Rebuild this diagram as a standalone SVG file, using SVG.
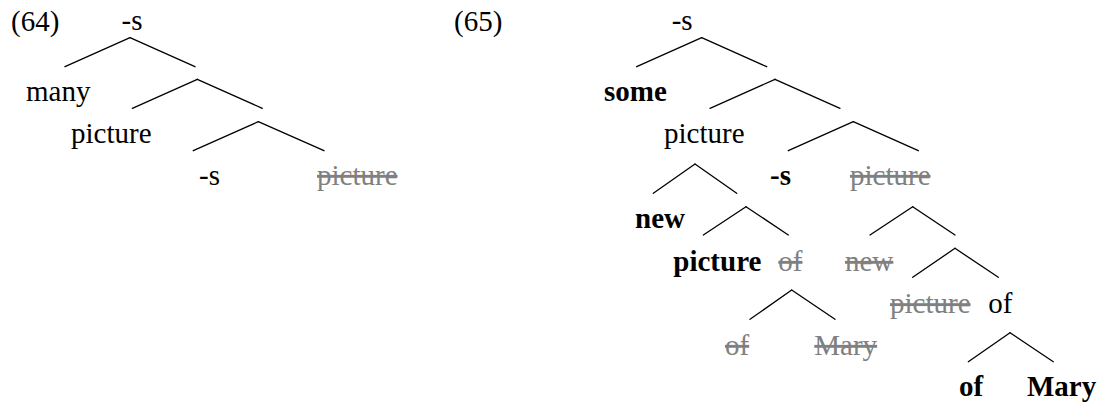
<svg xmlns="http://www.w3.org/2000/svg" width="1101" height="404" viewBox="0 0 1101 404">
<style>
text{font-size:29px;fill:#000}
.b{font-weight:bold}
.g{fill:#808080;text-decoration:line-through}
.e line{stroke:#000;stroke-width:1.3;stroke-linecap:round}
</style>
<rect width="1101" height="404" fill="#fff"/>
<g font-family="'Liberation Serif', 'Times New Roman', Times, 'DejaVu Serif', serif">
<g id="labels">
<text id="ex64" x="11" y="31">(64)</text>
<text id="ex65" x="454" y="31">(65)</text>
</g>
<g id="tree64">
<g id="t64-root"><text x="121.5" y="30">-s</text></g>
<g id="t64-many"><text x="26" y="101">many</text></g>
<g id="t64-picture"><text x="71" y="143">picture</text></g>
<g id="t64-s"><text x="199" y="185">-s</text></g>
<g id="t64-picture-del"><text class="g" x="317" y="185">picture</text></g>
</g>
<g id="tree65">
<g id="t65-root"><text x="671.7" y="30">-s</text></g>
<g id="t65-some"><text class="b" x="604" y="101">some</text></g>
<g id="t65-picture"><text x="664" y="143">picture</text></g>
<g id="t65-s"><text class="b" x="770" y="185">-s</text></g>
<g id="t65-picture-del"><text class="g" x="850" y="185">picture</text></g>
<g id="t65-new"><text class="b" x="635" y="228.3">new</text></g>
<g id="t65-picture-b"><text class="b" x="673.3" y="271">picture</text></g>
<g id="t65-of-del"><text class="g" x="778.3" y="271">of</text></g>
<g id="t65-new-del"><text class="g" x="845" y="271">new</text></g>
<g id="t65-picture-del2"><text class="g" x="890" y="313.3">picture</text></g>
<g id="t65-of"><text x="988.3" y="313.3">of</text></g>
<g id="t65-of-del2"><text class="g" x="725" y="355">of</text></g>
<g id="t65-mary-del"><text class="g" x="814.3" y="355">Mary</text></g>
<g id="t65-of-b"><text class="b" x="959" y="396">of</text></g>
<g id="t65-mary-b"><text class="b" x="1027" y="396">Mary</text></g>
</g>
</g>
<g id="connectors" class="e">
<line x1="130" y1="37.7" x2="65" y2="66.7"/>
<line x1="130" y1="37.7" x2="195" y2="66.7"/>
<line x1="197.3" y1="79.3" x2="132.3" y2="108.3"/>
<line x1="197.3" y1="79.3" x2="262.3" y2="108.3"/>
<line x1="258.3" y1="121.7" x2="193.3" y2="150.7"/>
<line x1="258.3" y1="121.7" x2="324" y2="150.7"/>
<line x1="701.7" y1="37.7" x2="636.7" y2="66.7"/>
<line x1="701.7" y1="37.7" x2="766.7" y2="66.7"/>
<line x1="775" y1="79.3" x2="710" y2="108.3"/>
<line x1="775" y1="79.3" x2="840" y2="108.3"/>
<line x1="853.3" y1="121.7" x2="788.3" y2="150.7"/>
<line x1="853.3" y1="121.7" x2="918.3" y2="150.7"/>
<line x1="695" y1="164" x2="653.3" y2="193.3"/>
<line x1="695" y1="164" x2="736.7" y2="193.3"/>
<line x1="746" y1="206.7" x2="703.3" y2="235"/>
<line x1="746" y1="206.7" x2="788.3" y2="235"/>
<line x1="912.7" y1="206.7" x2="870" y2="235"/>
<line x1="912.7" y1="206.7" x2="955" y2="235"/>
<line x1="955" y1="248.3" x2="912.7" y2="277.3"/>
<line x1="955" y1="248.3" x2="998.3" y2="277.3"/>
<line x1="791.7" y1="290" x2="750" y2="319.3"/>
<line x1="791.7" y1="290" x2="835" y2="319.3"/>
<line x1="1010" y1="332.7" x2="968.3" y2="361.7"/>
<line x1="1010" y1="332.7" x2="1053.3" y2="361.7"/>
</g>
</svg>
